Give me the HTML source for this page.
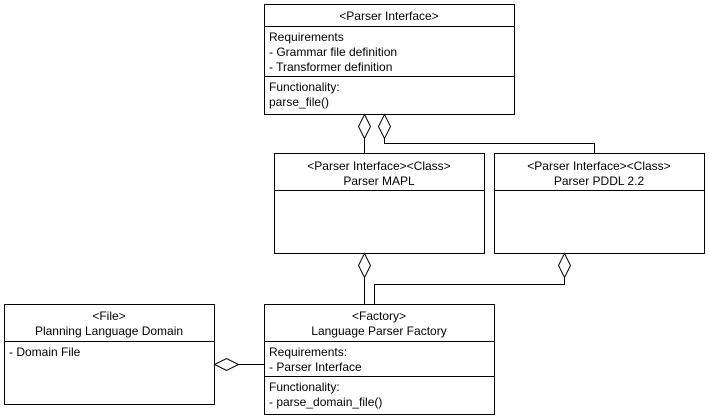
<!DOCTYPE html>
<html><head><style>body{margin:0;background:#fff}svg{display:block}text{font-family:"Liberation Sans",sans-serif;font-size:12px;fill:#000}</style></head><body>
<svg width="709" height="419" viewBox="0 0 709 419" xmlns="http://www.w3.org/2000/svg">
<g fill="#fff" stroke="#000" stroke-width="1">
<rect x="264.5" y="4.5" width="250" height="110"/>
<line x1="264.5" y1="26.5" x2="514.5" y2="26.5"/>
<line x1="264.5" y1="76.5" x2="514.5" y2="76.5"/>
<rect x="274.5" y="153.5" width="210" height="100"/>
<line x1="274.5" y1="190.5" x2="484.5" y2="190.5"/>
<rect x="494.5" y="153.5" width="210" height="100"/>
<line x1="494.5" y1="190.5" x2="704.5" y2="190.5"/>
<rect x="4.5" y="304.5" width="210" height="100"/>
<line x1="4.5" y1="341.5" x2="214.5" y2="341.5"/>
<rect x="264.5" y="304.5" width="230" height="110"/>
<line x1="264.5" y1="341.5" x2="494.5" y2="341.5"/>
<line x1="264.5" y1="376.5" x2="494.5" y2="376.5"/>
</g>
<g fill="none" stroke="#000">
<path d="M364.5 138.5V153.5"/>
<path d="M384.5 138.5V143.5H594.5V153.5"/>
<path d="M364.5 277.5V304.5"/>
<path d="M564.5 277.5V284.5H374.5V304.5"/>
<path d="M238.5 364.5H264.5"/>
</g>
<g fill="#fff" stroke="#000">
<path d="M364.5 114.5L370.5 126.5L364.5 138.5L358.5 126.5Z"/>
<path d="M384.5 114.5L390.5 126.5L384.5 138.5L378.5 126.5Z"/>
<path d="M364.5 253.5L370.5 265.5L364.5 277.5L358.5 265.5Z"/>
<path d="M564.5 253.5L570.5 265.5L564.5 277.5L558.5 265.5Z"/>
<path d="M214.5 364.5L226.5 358.5L238.5 364.5L226.5 370.5Z"/>
</g>
<g text-anchor="middle">
<text x="389" y="20">&lt;Parser Interface&gt;</text>
<text x="379" y="170">&lt;Parser Interface&gt;&lt;Class&gt;</text>
<text x="379" y="185">Parser MAPL</text>
<text x="599" y="170">&lt;Parser Interface&gt;&lt;Class&gt;</text>
<text x="599" y="185">Parser PDDL 2.2</text>
<text x="109" y="320">&lt;File&gt;</text>
<text x="109" y="335">Planning Language Domain</text>
<text x="379" y="320">&lt;Factory&gt;</text>
<text x="379" y="335">Language Parser Factory</text>
</g>
<text x="269" y="41">Requirements</text>
<text x="269" y="56">- Grammar file definition</text>
<text x="269" y="71">- Transformer definition</text>
<text x="269" y="91">Functionality:</text>
<text x="269" y="106">parse_file()</text>
<text x="9" y="356">- Domain File</text>
<text x="269" y="356">Requirements:</text>
<text x="269" y="371">- Parser Interface</text>
<text x="269" y="391">Functionality:</text>
<text x="269" y="406">- parse_domain_file()</text>
</svg>
</body></html>
